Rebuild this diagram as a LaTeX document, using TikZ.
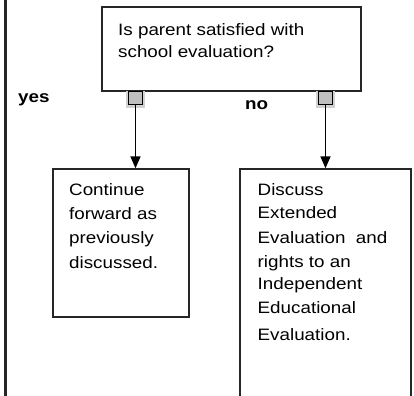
\documentclass[tikz,border=0pt]{standalone}
\usepackage{fontspec}
\setmainfont[FakeStretch=1.14]{Liberation Sans}
\usetikzlibrary{arrows.meta}
\tikzset{
  box/.style={draw=black!85, line width=1.8bp, fill=white, inner sep=0pt},
  txt/.style={anchor=base west, inner sep=0pt, font=\fontsize{16.5bp}{20bp}\selectfont, text=black},
  lbl/.style={anchor=base west, inner sep=0pt, font=\fontsize{16.5bp}{20bp}\selectfont\bfseries, text=black},
  port/.style={draw=black, line width=1.5bp, fill=black!25, inner sep=0pt, minimum width=14bp, minimum height=13bp},
  portshadow/.style={fill=black!18, inner sep=0pt, minimum width=19bp, minimum height=17bp},
  conn/.style={draw=black, line width=1.5bp, -{Triangle[width=10bp,length=12bp]}},
}
\begin{document}
\begin{tikzpicture}[x=1bp,y=-1bp]
\useasboundingbox (0,0) rectangle (414,396);
% left border line
\coordinate (lt) at (5.5,-3);
\coordinate (lb) at (5.5,400);
\draw[line width=3.5bp, black!85] (lt) -- (lb);
% top decision box
\node[box, minimum width=259bp, minimum height=83.5bp] (q) at (231.3,49) {};
\node[txt] (q1) at (118,35) {Is parent satisfied with};
\node[txt] (q2) at (118,57.5) {school evaluation?};
% ports
\node[portshadow] (ls) at (135.3,99.5) {};
\node[portshadow] (rs) at (325.3,99.5) {};
\node[port] (lp) at (135.5,97.8) {};
\node[port] (rp) at (325.5,97.8) {};
% labels
\node[lbl] (yes) at (18,102.5) {yes};
\node[lbl] (no) at (245,109) {no};
% left box
\node[box, minimum width=136.6bp, minimum height=148bp, anchor=north west] (a) at (51.7,168.3) {};
\node[txt] (a1) at (69,195) {Continue};
\node[txt] (a2) at (69,219.5) {forward as};
\node[txt] (a3) at (69,243.5) {previously};
\node[txt] (a4) at (69,268) {discussed.};
% right box
\node[box, minimum width=171bp, minimum height=240bp, anchor=north west] (b) at (239.3,168.3) {};
\node[txt] (b1) at (257.5,195) {Discuss};
\node[txt] (b2) at (257.5,218.5) {Extended};
\node[txt] (b3) at (257.5,243.3) {Evaluation\ \ and};
\node[txt] (b4) at (257.5,267) {rights to an};
\node[txt] (b5) at (257.5,289.3) {Independent};
\node[txt] (b6) at (257.5,313.3) {Educational};
\node[txt] (b7) at (257.5,340) {Evaluation.};
% connectors
\draw[conn] (lp.south) -- (lp.south |- a.north);
\draw[conn] (rp.south) -- (rp.south |- b.north);
\end{tikzpicture}
\end{document}
